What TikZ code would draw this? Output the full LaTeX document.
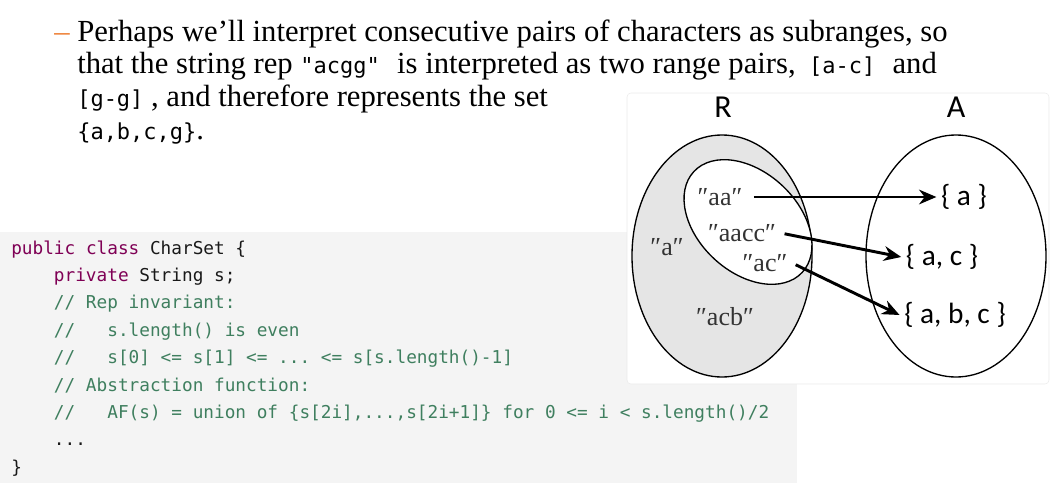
\documentclass[tikz,border=0pt]{standalone}
\usepackage{fontspec}
\setmainfont{Liberation Serif}
\setsansfont{Carlito}
\setmonofont{DejaVu Sans Mono}
\usetikzlibrary{arrows.meta}

\definecolor{bulletorange}{RGB}{237,125,49}
\definecolor{codebg}{RGB}{244,244,244}
\definecolor{keyword}{RGB}{127,0,85}
\definecolor{comment}{RGB}{63,127,95}
\definecolor{setgray}{RGB}{229,229,229}

\newcommand{\kw}[1]{\textcolor{keyword}{#1}}
\newcommand{\cmt}[1]{\textcolor{comment}{#1}}
\newcommand{\inl}[1]{{\ttfamily\fontsize{16.5}{24}\selectfont #1}}

\begin{document}
\begin{tikzpicture}[x=0.75pt,y=-0.75pt,>=Stealth,
  bodytext/.style={anchor=base west,inner sep=0pt,
    font=\fontsize{23}{26}\selectfont},
  codeline/.style={anchor=base west,inner sep=0pt,
    font=\ttfamily\fontsize{13.3}{16}\selectfont,text=black!90},
  rep/.style={font=\fontsize{19.5}{22}\selectfont,text=black!80},
  absval/.style={font=\sffamily\fontsize{22}{26}\selectfont},
  space/.style={font=\sffamily\fontsize{24}{28}\selectfont},
  mapsto/.style={line width=2.2pt,-{Stealth[length=13pt,width=11pt]}}]
  \useasboundingbox (0,0) rectangle (1050,485);
  % code listing
  \fill[codebg] (0,232) rectangle (797,483);
  \node[codeline] (code1) at (11,254.0)
    {\kw{public} \kw{class} CharSet \{};
  \node[codeline] (code2) at (11,281.4)
    {\ \ \ \ \kw{private} String s;};
  \node[codeline] (code3) at (11,308.8)
    {\ \ \ \ \cmt{// Rep invariant:}};
  \node[codeline] (code4) at (11,336.2)
    {\ \ \ \ \cmt{//\ \ \ s.length() is even}};
  \node[codeline] (code5) at (11,363.6)
    {\ \ \ \ \cmt{//\ \ \ s[0] <= s[1] <= ... <= s[s.length()-1]}};
  \node[codeline] (code6) at (11,391.0)
    {\ \ \ \ \cmt{// Abstraction function:}};
  \node[codeline] (code7) at (11,418.4)
    {\ \ \ \ \cmt{//\ \ \ AF(s) = union of \{s[2i],...,s[2i+1]\} for 0 <= i < s.length()/2}};
  \node[codeline] (code8) at (11,445.8)
    {\ \ \ \ ...};
  \node[codeline] (code9) at (11,473.2) {\}};
  % bullet text
  \node[bodytext,text=bulletorange] (dash) at (54,42) {–};
  \node[bodytext] (line1) at (77,42)
    {Perhaps we’ll interpret consecutive pairs of characters as subranges, so};
  \node[bodytext] (line2) at (77,74)
    {that the string rep \inl{"acgg"}\hspace{13pt}is interpreted as two range pairs,\hspace{10pt}\inl{[a-c]}\hspace{13pt}and};
  \node[bodytext] (line3) at (77,107)
    {\inl{[g-g]}\ , and therefore represents the set};
  \node[bodytext] (line4) at (77,139) {\inl{\{a,b,c,g\}}.};
  % the diagram
  \draw[black!8,fill=white,rounded corners=3pt] (627,93) rectangle (1049,384);
  \node[space] (R) at (723,107) {R};
  \node[space] (A) at (956,107) {A};
  \draw[line width=1pt,fill=setgray] (722,256) ellipse [x radius=90, y radius=121];
  \draw[line width=1pt,fill=white,rotate around={-43:(748,222)}]
    (748,222) ellipse [x radius=74, y radius=50];
  \draw[line width=1pt] (956,256) ellipse [x radius=90, y radius=121];
  \node[rep] (aa) at (720,197) {″aa″};
  \node[rep] (aacc) at (742,233) {″aacc″};
  \node[rep] (ac) at (765,263) {″ac″};
  \node[rep] (a) at (667,247) {″a″};
  \node[rep] (acb) at (725,317) {″acb″};
  \node[absval] (seta) at (964,197) {\{ a \}};
  \node[absval] (setac) at (942,257) {\{ a, c \}};
  \node[absval] (setabc) at (955,315) {\{ a, b, c \}};
  \draw[mapsto,shorten <=5pt] (aa.east) -- (seta.west);
  \draw[mapsto,shorten <=3pt] (aacc.east) -- (setac.west);
  \draw[mapsto,shorten <=3pt] (ac.east) -- (setabc.west);
\end{tikzpicture}
\end{document}
